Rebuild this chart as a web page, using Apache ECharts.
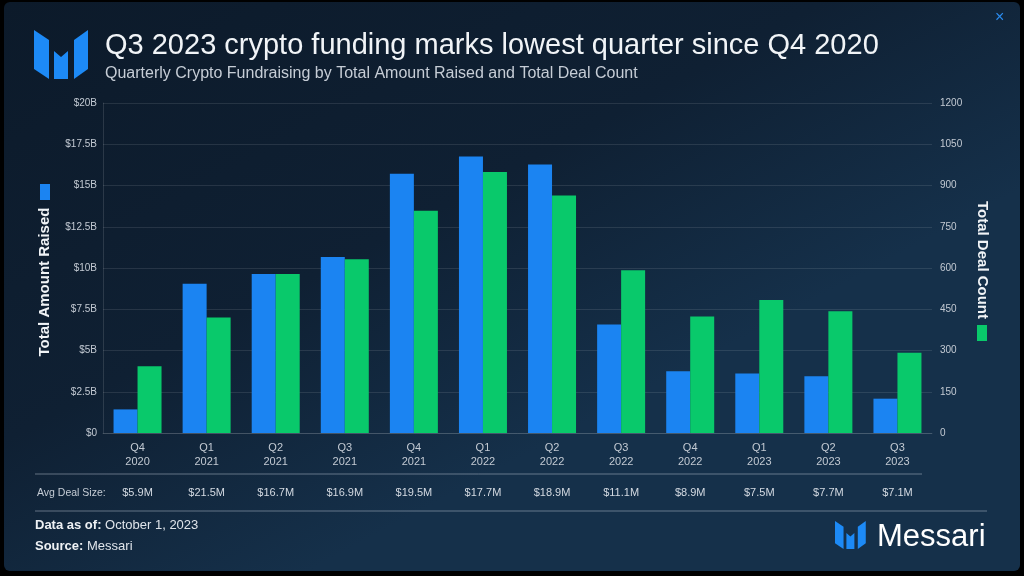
<!DOCTYPE html>
<html>
<head>
<meta charset="utf-8">
<script src="https://cdn.jsdelivr.net/npm/echarts@6/dist/echarts.min.js"></script>
<style>
  html, body { margin: 0; padding: 0; background: #000; }
  #chart { width: 1024px; height: 576px; }
</style>
</head>
<body>
<div id="chart"></div>
<script>
// quarters on the x axis
const quarters = ['Q4\n2020', 'Q1\n2021', 'Q2\n2021', 'Q3\n2021', 'Q4\n2021', 'Q1\n2022',
  'Q2\n2022', 'Q3\n2022', 'Q4\n2022', 'Q1\n2023', 'Q2\n2023', 'Q3\n2023']
// total amount raised, billions USD
const amountRaised = [1.43, 9.05, 9.63, 10.67, 15.71, 16.76, 16.27, 6.57, 3.74, 3.6, 3.44, 2.08]
// total deal count
const dealCount = [243, 420, 578, 632, 808, 949, 864, 592, 424, 484, 443, 292]
// average deal size row
const avgDealSize = ['$5.9M', '$21.5M', '$16.7M', '$16.9M', '$19.5M', '$17.7M',
  '$18.9M', '$11.1M', '$8.9M', '$7.5M', '$7.7M', '$7.1M']

const font = '"Liberation Sans", Arial, sans-serif'
const blue = '#1b84f2'
const green = '#09c96b'
const labelGrey = '#c3cad3'

// messari mark, drawn as three slanted pieces
function logo(x, y, s) {
  const pieces = [
    [[0, 0], [15, 10], [15, 49], [0, 39]],
    [[20, 21], [27, 27], [34, 21], [34, 49], [20, 49]],
    [[40, 10], [54, 0], [54, 39], [40, 49]]
  ]
  return pieces.map(function (p) {
    return {
      type: 'polygon',
      shape: { points: p.map(function (pt) { return [x + pt[0] * s, y + pt[1] * s] }) },
      style: { fill: '#1d8af6' }
    }
  })
}

const chart = echarts.init(document.getElementById('chart'))
const option = {
  backgroundColor: '#000',
  textStyle: { fontFamily: font },
  animation: false,
  grid: { left: 103, right: 92, top: 103, bottom: 143 },
  xAxis: [
    {
      type: 'category',
      data: quarters,
      axisLine: { show: true, lineStyle: { color: 'rgba(255,255,255,0.12)' } },
      axisTick: { show: false },
      axisLabel: { color: labelGrey, fontSize: 11, lineHeight: 14, margin: 8 }
    },
    {
      type: 'category',
      position: 'bottom',
      offset: 46,
      data: avgDealSize,
      axisLine: { show: false },
      axisTick: { show: false },
      axisLabel: { color: '#d4dae2', fontSize: 11, margin: 8 }
    }
  ],
  yAxis: [
    {
      type: 'value',
      min: 0,
      max: 20,
      interval: 2.5,
      axisLine: { show: true, lineStyle: { color: 'rgba(255,255,255,0.12)' } },
      axisTick: { show: false },
      splitLine: { lineStyle: { color: 'rgba(255,255,255,0.1)' } },
      axisLabel: {
        color: labelGrey, fontSize: 10, margin: 6,
        formatter: function (v) { return v === 0 ? '$0' : '$' + v + 'B' }
      }
    },
    {
      type: 'value',
      min: 0,
      max: 1200,
      interval: 150,
      axisLine: { show: false },
      axisTick: { show: false },
      splitLine: { show: false },
      axisLabel: {
        color: labelGrey, fontSize: 10, margin: 8,
        formatter: function (v) { return String(v) }
      }
    }
  ],
  series: [
    {
      name: 'Total Amount Raised',
      type: 'bar',
      data: amountRaised,
      yAxisIndex: 0,
      barWidth: 24,
      barGap: '0%',
      itemStyle: { color: blue }
    },
    {
      name: 'Total Deal Count',
      type: 'bar',
      data: dealCount,
      yAxisIndex: 1,
      barWidth: 24,
      barGap: '0%',
      itemStyle: { color: green }
    }
  ],
  graphic: [
    {
      type: 'rect',
      z: -10,
      shape: { x: 4, y: 2, width: 1016, height: 569, r: 6 },
      style: {
        fill: new echarts.graphic.LinearGradient(0, 0, 0.3, 1, [
          { offset: 0, color: '#0c1a2a' },
          { offset: 0.6, color: '#0f2033' },
          { offset: 1, color: '#15304a' }
        ])
      }
    },
    ...logo(34, 30, 1),
    {
      type: 'text', x: 105, y: 46,
      style: { text: 'Q3 2023 crypto funding marks lowest quarter since Q4 2020', fill: '#f1f4f7', font: '29px ' + font, verticalAlign: 'middle' }
    },
    {
      type: 'text', x: 105, y: 74,
      style: { text: 'Quarterly Crypto Fundraising by Total Amount Raised and Total Deal Count', fill: '#c6cdd6', font: '16px ' + font, verticalAlign: 'middle' }
    },
    {
      type: 'text', left: 995, top: 10,
      style: { text: '\u00d7', fill: '#2a8cf0', font: '16px ' + font }
    },
    // axis titles with colour keys
    {
      type: 'rect', shape: { x: 40, y: 184, width: 10, height: 16 }, style: { fill: blue }
    },
    {
      type: 'text', x: 45, y: 282, rotation: Math.PI / 2,
      style: { text: 'Total Amount Raised', fill: '#f1f4f7', font: 'bold 15px ' + font, align: 'center', verticalAlign: 'middle' }
    },
    {
      type: 'rect', shape: { x: 977, y: 325, width: 10, height: 16 }, style: { fill: green }
    },
    {
      type: 'text', x: 982, y: 260, rotation: -Math.PI / 2,
      style: { text: 'Total Deal Count', fill: '#f1f4f7', font: 'bold 15px ' + font, align: 'center', verticalAlign: 'middle' }
    },
    // avg deal size row
    {
      type: 'line', shape: { x1: 35, y1: 474, x2: 922, y2: 474 },
      style: { stroke: 'rgba(200,210,222,0.45)', lineWidth: 1 }
    },
    {
      type: 'text', x: 37, y: 493,
      style: { text: 'Avg Deal Size:', fill: '#c6cdd6', font: '10.5px ' + font, verticalAlign: 'middle' }
    },
    {
      type: 'line', shape: { x1: 35, y1: 511, x2: 987, y2: 511 },
      style: { stroke: 'rgba(200,210,222,0.45)', lineWidth: 1 }
    },
    // footer
    {
      type: 'text', x: 35, y: 525,
      style: {
        text: '{b|Data as of:} October 1, 2023',
        fill: '#dfe4ea', font: '13px ' + font, verticalAlign: 'middle',
        rich: { b: { fontWeight: 'bold', fontSize: 13, fill: '#eef1f4' } }
      }
    },
    {
      type: 'text', x: 35, y: 546,
      style: {
        text: '{b|Source:} Messari',
        fill: '#dfe4ea', font: '13px ' + font, verticalAlign: 'middle',
        rich: { b: { fontWeight: 'bold', fontSize: 13, fill: '#eef1f4' } }
      }
    },
    ...logo(835, 521, 0.57),
    {
      type: 'text', x: 877, y: 537,
      style: { text: 'Messari', fill: '#ffffff', font: '31px ' + font, verticalAlign: 'middle' }
    }
  ]
}
chart.setOption(option)
</script>
</body>
</html>
